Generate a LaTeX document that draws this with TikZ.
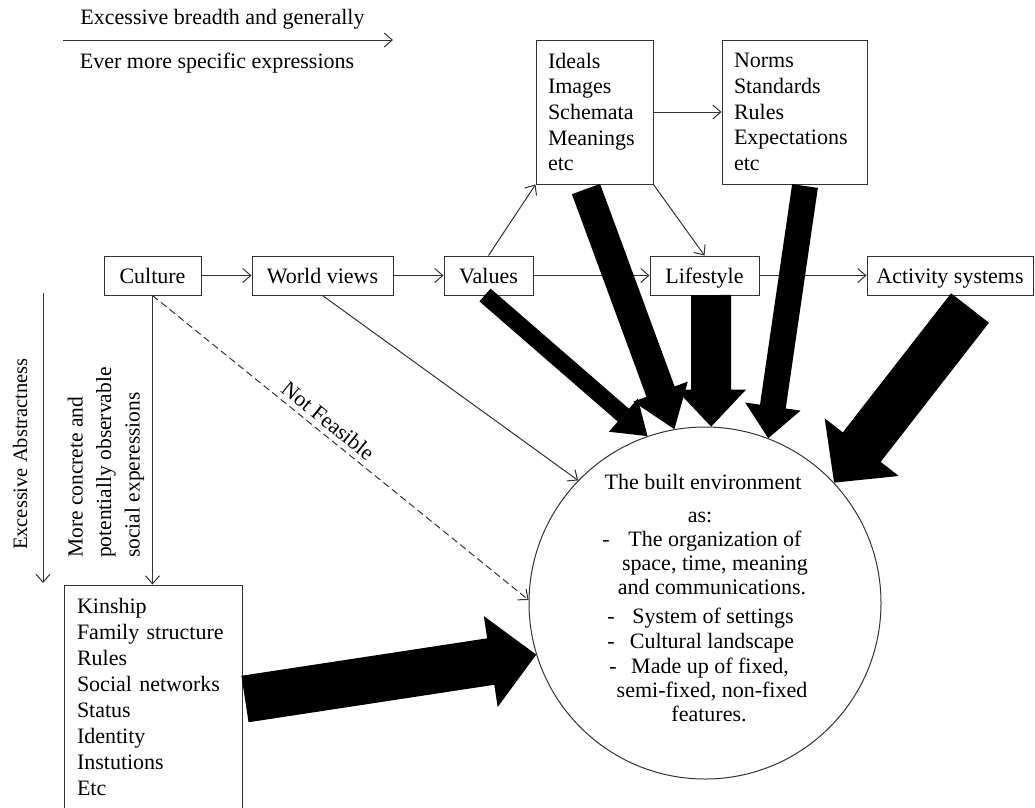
\documentclass[tikz,border=0pt]{standalone}
\usepackage{fontspec}
\setmainfont{Liberation Serif}
\usetikzlibrary{calc,arrows.meta}
\newcommand\blockarrow[5]{%
  \coordinate (ba-c) at ($(#2)!#5!(#1)$);
  \fill[black] ($(#1)!#3!90:(#2)$) -- ($(ba-c)!#3!90:(#2)$) -- ($(ba-c)!#4!90:(#2)$) -- (#2)
    -- ($(ba-c)!#4!-90:(#2)$) -- ($(ba-c)!#3!-90:(#2)$) -- ($(#1)!#3!-90:(#2)$) -- cycle;}
\begin{document}
\begin{tikzpicture}[x=1pt,y=-1pt,
  every node/.style={font=\fontsize{22}{25.6}\selectfont},
  ln/.style={draw=black!80, line width=1pt},
  arr/.style={ln, -{Straight Barb[length=8pt,width=14pt]}},
  box/.style={draw=black!80, line width=1pt, minimum height=39pt, inner sep=0pt, text height=18pt, text depth=3pt},
  listbox/.style={draw=black!80, line width=1pt, align=left, inner ysep=0pt},
  txt/.style={inner sep=0pt, text height=17pt, text depth=4pt}
]
\useasboundingbox (0,0) rectangle (1035,807);

% top legend
\coordinate (ta) at (63,40);
\coordinate (tb) at (393,40);
\draw[arr] (ta) -- (tb);
\node[txt] (breadth) at (222.5,18) {Excessive breadth and generally};
\node[txt] (specific) at (217,62) {Ever more specific expressions};

% left legend
\coordinate (la) at (43,293);
\coordinate (lb) at (43,583);
\draw[arr] (la) -- (lb);
\node[rotate=90, inner sep=0pt, font=\fontsize{20.5}{24}\selectfont] (abstr) at (20,454) {Excessive Abstractness};
\node[rotate=90, inner sep=0pt, align=left, anchor=west, font=\fontsize{21.5}{28.5}\selectfont] (concrete) at (106,558)
  {More concrete and\\potentially observable\\social experessions};

% main row
\node[box, minimum width=97pt] (culture) at (152.5,275.5) {Culture};
\node[box, minimum width=141pt] (world) at (322.5,275.5) {World views};
\node[box, minimum width=89pt] (values) at (488.5,275.5) {Values};
\node[box, minimum width=109pt] (life) at (704.5,275.5) {Lifestyle};
\node[box, minimum width=166pt] (act) at (950,275.5) {Activity systems};

% upper boxes
\node[listbox, text width=93pt, inner xsep=12pt, minimum height=144pt] (ideals) at (594.5,112)
  {Ideals\\Images\\Schemata\\Meanings\\etc};
\node[listbox, text width=121pt, inner xsep=12pt, minimum height=144pt] (norms) at (794.5,112)
  {Norms\\Standards\\Rules\\Expectations\\etc};

% lower box
\node[listbox, text width=152pt, inner xsep=13pt, minimum height=223pt, font=\fontsize{22}{26}\selectfont] (kin) at (153,696.5)
  {Kinship\\Family structure\\Rules\\Social networks\\Status\\Identity\\Instutions\\Etc};

% built environment
\node[circle, draw=black!80, line width=1pt, minimum size=352pt, inner sep=0pt] (env) at (705,603) {};
\node[txt] (e1) at (703,483) {The built environment};
\node[txt] (e2) at (700,516) {as:};
\node[txt] (e3) at (715,540) {The organization of};
\node[txt] (e4) at (715,564) {space, time, meaning};
\node[txt] (e5) at (712,588) {and communications.};
\node[txt] (e6) at (713,617) {System of settings};
\node[txt] (e7) at (712,642) {Cultural landscape};
\node[txt] (e8) at (710,667) {Made up of fixed,};
\node[txt] (e9) at (712,691) {semi-fixed, non-fixed};
\node[txt] (e10) at (709,715) {features.};
\node[txt] (d1) at (606,540) {-};
\node[txt] (d2) at (611,617) {-};
\node[txt] (d3) at (611,642) {-};
\node[txt] (d4) at (613,667) {-};

% thin connectors
\draw[arr] (culture) -- (world);
\draw[arr] (world) -- (values);
\draw[arr] (values) -- (life);
\draw[arr] (life) -- (act);
\draw[arr] (values.north) -- (ideals.south west);
\draw[arr] (ideals.south east) -- (life.north);
\draw[arr] (ideals) -- (norms);
\draw[arr] (culture.south) -- (culture.south |- kin.north);
\draw[arr] (world.south) -- (env.136);
\draw[arr, dash pattern=on 7pt off 4pt] (culture.south) -- node[sloped, above=3pt, pos=0.445, inner sep=2pt] (nf) {Not Feasible} (env.179.4);

% block arrows
\coordinate (b1) at (485,295);
\coordinate (b2) at (586,189);
\coordinate (b3) at (711,295);
\coordinate (b4) at (805,186);
\coordinate (b5) at (970,308);
\coordinate (b6) at (245,699);
\blockarrow{b1}{env.109.4}{8.5pt}{22pt}{32pt}
\blockarrow{b2}{env.100.5}{15pt}{29pt}{40pt}
\blockarrow{b3}{env.88.4}{20pt}{35pt}{37pt}
\blockarrow{b4}{env.69.6}{13pt}{28pt}{32pt}
\blockarrow{b5}{env.43.4}{24pt}{47pt}{45pt}
\blockarrow{b6}{env.197.6}{23.5pt}{46pt}{46pt}
\end{tikzpicture}
\end{document}
